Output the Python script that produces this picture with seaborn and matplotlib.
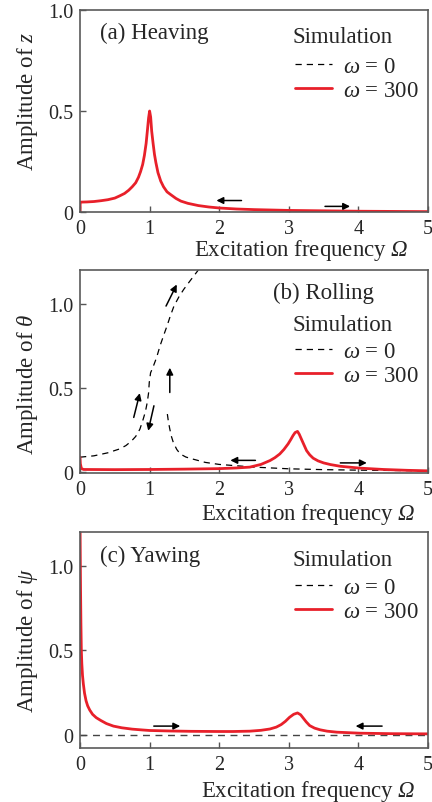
import matplotlib
matplotlib.use("Agg")
import matplotlib.pyplot as plt
from matplotlib.lines import Line2D
import seaborn as sns

sns.set_theme(style="white")
plt.rcParams['font.family'] = ['Liberation Serif', 'DejaVu Serif']
plt.rcParams['mathtext.fontset'] = 'custom'
plt.rcParams['mathtext.rm'] = 'Liberation Serif'
plt.rcParams['mathtext.it'] = 'Liberation Serif:italic'
plt.rcParams['mathtext.sf'] = 'Liberation Serif:italic'

# (a) heaving, omega = 300
heave_x = [0, 0.003, 0.1, 0.2, 0.3, 0.4, 0.5, 0.57, 0.64, 0.7, 0.75, 0.8, 0.84, 0.87, 0.9, 0.925, 0.95,
           0.97, 0.985, 1.0, 1.015, 1.03, 1.05, 1.07, 1.09, 1.12, 1.16, 1.2, 1.25, 1.3, 1.38, 1.45, 1.55,
           1.7, 1.85, 2.0, 2.25, 2.5, 3.0, 3.5, 4.0, 4.5, 5.0]
heave_y = [0.0, 0.049, 0.05, 0.052, 0.056, 0.061, 0.069, 0.08, 0.092, 0.108, 0.125, 0.145, 0.172, 0.2,
           0.235, 0.28, 0.34, 0.41, 0.465, 0.5, 0.47, 0.40, 0.34, 0.285, 0.245, 0.195, 0.153, 0.125, 0.1,
           0.087, 0.067, 0.054, 0.043, 0.032, 0.025, 0.02, 0.015, 0.012, 0.008, 0.006, 0.004, 0.003, 0.002]

# (b) rolling, omega = 0 (two branches) and omega = 300
roll0_up_x = [0, 0.2, 0.4, 0.57, 0.66, 0.74, 0.8, 0.86, 0.908, 0.94, 0.966, 0.985, 0.995, 1.014, 1.05,
              1.1, 1.15, 1.2, 1.25, 1.3, 1.35, 1.42, 1.49, 1.58, 1.70]
roll0_up_y = [0.089, 0.097, 0.115, 0.138, 0.158, 0.185, 0.212, 0.255, 0.315, 0.36, 0.414, 0.47, 0.532,
              0.59, 0.625, 0.68, 0.75, 0.81, 0.868, 0.93, 0.986, 1.04, 1.085, 1.135, 1.2]
roll0_dn_x = [1.255, 1.27, 1.29, 1.315, 1.34, 1.39, 1.44, 1.52, 1.6, 1.8, 2.0, 2.5, 3.0, 3.5, 4.0, 5.0]
roll0_dn_y = [0.345, 0.3, 0.256, 0.21, 0.177, 0.135, 0.108, 0.09, 0.08, 0.058, 0.046, 0.03, 0.02,
              0.015, 0.012, 0.008]
roll_x = [0, 0.005, 0.02, 0.05, 0.5, 1.0, 1.5, 2.0, 2.25, 2.44, 2.6, 2.73, 2.8, 2.87, 2.93, 2.99, 3.03,
          3.06, 3.09, 3.125, 3.15, 3.18, 3.22, 3.255, 3.3, 3.35, 3.42, 3.5, 3.6, 3.74, 4.02, 4.36, 4.7, 5.0]
roll_y = [0.09, 0.05, 0.022, 0.016, 0.015, 0.016, 0.018, 0.021, 0.025, 0.03, 0.046, 0.069, 0.086, 0.108,
          0.135, 0.168, 0.195, 0.217, 0.235, 0.242, 0.225, 0.197, 0.16, 0.128, 0.103, 0.083, 0.067,
          0.055, 0.045, 0.035, 0.024, 0.016, 0.011, 0.008]

# (c) yawing, omega = 0 and omega = 300
yaw0_x = [0, 5]
yaw0_y = [0, 0]
yaw_x = [0, 0.004, 0.008, 0.013, 0.019, 0.026, 0.036, 0.048, 0.065, 0.087, 0.11, 0.14, 0.18, 0.233,
         0.3, 0.38, 0.48, 0.6, 0.75, 0.9, 1.0, 1.3, 1.6, 2.0, 2.2, 2.44, 2.6, 2.73, 2.82, 2.89, 2.95,
         3.01, 3.07, 3.125, 3.17, 3.21, 3.25, 3.3, 3.37, 3.45, 3.55, 3.69, 4.02, 4.5, 5.0]
yaw_y = [1.3, 1.05, 0.85, 0.66, 0.5, 0.42, 0.35, 0.3, 0.245, 0.2, 0.17, 0.145, 0.12, 0.1, 0.083, 0.065,
         0.05, 0.04, 0.032, 0.027, 0.024, 0.021, 0.019, 0.018, 0.018, 0.02, 0.025, 0.033, 0.044, 0.059,
         0.078, 0.102, 0.12, 0.128, 0.117, 0.096, 0.075, 0.053, 0.038, 0.028, 0.02, 0.014, 0.008, 0.005, 0.004]

# sweep-direction arrows: (tail x, tail y, head x, head y)
heave_arrows = [(2.32, 0.057, 1.96, 0.057), (3.52, 0.028, 3.88, 0.028)]
roll_arrows = [(2.52, 0.07, 2.16, 0.07), (3.74, 0.055, 4.12, 0.055),
               (0.772, 0.325, 0.859, 0.469), (1.062, 0.394, 0.98, 0.246),
               (1.29, 0.473, 1.29, 0.62), (1.236, 0.986, 1.39, 1.114)]
yaw_arrows = [(1.06, 0.05, 1.44, 0.05), (4.34, 0.05, 3.96, 0.05)]

RED = "#e8202a"
DASH = (0, (5, 4))
FS = 16.5

fig = plt.figure(figsize=(4.32, 8.03), dpi=100)
ax_a = fig.add_axes([0.1852, 0.7347, 0.8056, 0.2516])
ax_b = fig.add_axes([0.1852, 0.4097, 0.8056, 0.2528])
ax_c = fig.add_axes([0.1852, 0.0672, 0.8056, 0.2690])

sns.lineplot(x=heave_x, y=heave_y, ax=ax_a, color=RED, lw=2.0, estimator=None, sort=False)

sns.lineplot(x=roll0_up_x, y=roll0_up_y, ax=ax_b, color="black", lw=0.9, linestyle=DASH, estimator=None, sort=False)
sns.lineplot(x=roll0_dn_x, y=roll0_dn_y, ax=ax_b, color="black", lw=0.9, linestyle=DASH, estimator=None, sort=False)
sns.lineplot(x=roll_x, y=roll_y, ax=ax_b, color=RED, lw=2.0, estimator=None, sort=False)

sns.lineplot(x=yaw0_x, y=yaw0_y, ax=ax_c, color="#444444", lw=1.0, linestyle=DASH, estimator=None, sort=False)
sns.lineplot(x=yaw_x, y=yaw_y, ax=ax_c, color=RED, lw=2.0, estimator=None, sort=False)

# ax, title, title x, ylabel, ylim, arrows, "Simulation" y, legend top, ylabel y, xlabel x, xlabel y
panels = [
    (ax_a, "(a) Heaving", 0.057, "Amplitude of $z$", (0.0, 1.0), heave_arrows, 0.871, 0.772, 0.55, 0.943, -0.185),
    (ax_b, "(b) Rolling", 0.555, r"Amplitude of $\theta$", (-0.005, 1.2), roll_arrows, 0.734, 0.65, 0.44, 0.963, -0.198),
    (ax_c, "(c) Yawing", 0.057, r"Amplitude of $\psi$", (-0.08, 1.2), yaw_arrows, 0.875, 0.792, 0.5, 0.963, -0.195),
]

for ax, title, tx, ylab, ylim, arrows, sim_y, leg_top, ylab_y, xlab_x, xlab_y in panels:
    ax.set_xlim(0, 5)
    ax.set_ylim(*ylim)
    ax.set_xticks([0, 1, 2, 3, 4, 5])
    ax.set_xticklabels(["0", "1", "2", "3", "4", "5"])
    ax.set_yticks([0, 0.5, 1.0])
    ax.set_yticklabels(["0", "0.5", "1.0"])
    ax.tick_params(direction="in", length=4, width=1, color="#555555", labelsize=14.5,
                   pad=5, bottom=True, left=True, top=False, right=False)
    for s in ax.spines.values():
        s.set_color("#5a5a5a")
        s.set_linewidth(1.2)
    ax.text(tx, 0.89, title, transform=ax.transAxes, fontsize=FS, va="center", ha="left")
    ax.text(0.612, sim_y, "Simulation", transform=ax.transAxes, fontsize=FS, va="center", ha="left")
    ax.set_ylabel(ylab, fontsize=FS)
    ax.yaxis.set_label_coords(-0.115, ylab_y)
    ax.set_xlabel(r"Excitation frequency $\mathsf{\Omega}$", fontsize=FS)
    ax.xaxis.label.set_ha("right")
    ax.xaxis.label.set_va("center")
    ax.xaxis.set_label_coords(xlab_x, xlab_y)
    for x0, y0, x1, y1 in arrows:
        ax.annotate("", xy=(x1, y1), xytext=(x0, y0),
                    arrowprops=dict(arrowstyle="-|>", color="black", lw=1.1,
                                    mutation_scale=10, shrinkA=0, shrinkB=0))
    handles = [Line2D([], [], color="black", lw=0.9, linestyle=DASH),
               Line2D([], [], color=RED, lw=2.0)]
    ax.legend(handles, [r"$\omega$ = 0", r"$\omega$ = 300"],
              loc="upper left", bbox_to_anchor=(0.618, leg_top), frameon=False,
              fontsize=FS, handlelength=1.6, handletextpad=0.5,
              labelspacing=0.12, borderpad=0, borderaxespad=0)

fig.savefig("out.png", dpi=100)
